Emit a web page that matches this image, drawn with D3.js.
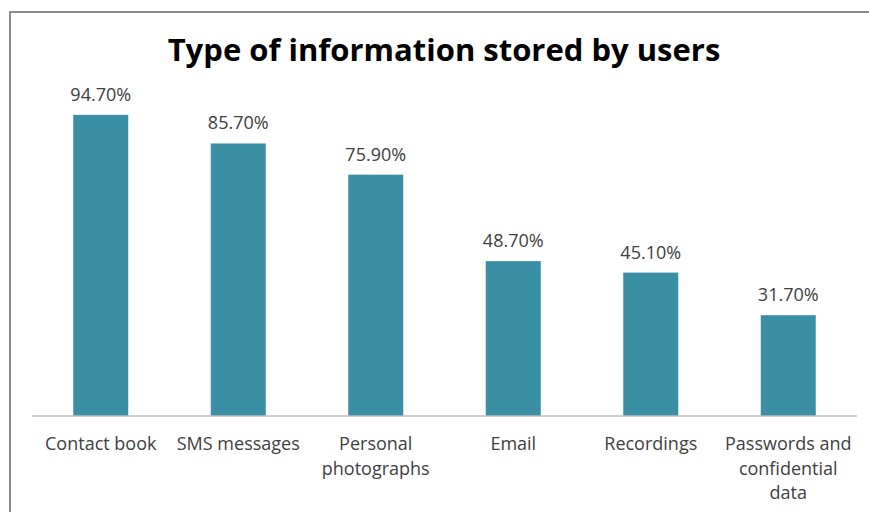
<!DOCTYPE html>
<html>
<head>
<meta charset="utf-8">
<script src="https://cdn.jsdelivr.net/npm/d3@7"></script>
<style>
  html, body { margin: 0; padding: 0; background: #ffffff; }
  svg { display: block; }
</style>
</head>
<body>
<svg id="chart" width="869" height="512"></svg>
<script>
// Survey data: share of users storing each type of information on their phone
const categories = [
  ["Contact book"],
  ["SMS messages"],
  ["Personal", "photographs"],
  ["Email"],
  ["Recordings"],
  ["Passwords and", "confidential", "data"]
];
const values = [94.7, 85.7, 75.9, 48.7, 45.1, 31.7];
const valueLabels = ["94.70%", "85.70%", "75.90%", "48.70%", "45.10%", "31.70%"];
const titleText = "Type of information stored by users";

const svg = d3.select("#chart");
const W = 869, H = 512;
const font = "'Open Sans', Lato, 'DejaVu Sans', sans-serif";

// chart frame (open on the right and bottom edges of the canvas)
svg.append("rect")
  .attr("x", 10).attr("y", 12)
  .attr("width", W + 20).attr("height", H + 20)
  .attr("fill", "#ffffff")
  .attr("stroke", "#8c8c8c")
  .attr("stroke-width", 2);

const plot = { left: 32, right: 857, top: 98, bottom: 416 };

const x = d3.scaleBand()
  .domain(d3.range(categories.length))
  .range([plot.left, plot.right])
  .paddingInner(0.6)
  .paddingOuter(0.3);

const y = d3.scaleLinear()
  .domain([0, 100])
  .range([plot.bottom, plot.top]);

// title
svg.append("text")
  .attr("x", 444).attr("y", 60.5)
  .attr("text-anchor", "middle")
  .attr("font-family", font)
  .attr("font-weight", "bold")
  .attr("font-size", 31)
  .attr("fill", "#000000")
  .text(titleText);

// bars
svg.append("g").selectAll("rect")
  .data(values)
  .join("rect")
  .attr("x", (d, i) => x(i))
  .attr("y", d => y(d))
  .attr("width", x.bandwidth())
  .attr("height", d => y(0) - y(d))
  .attr("fill", "#3b8fa4");

// value labels
svg.append("g").selectAll("text")
  .data(values)
  .join("text")
  .attr("x", (d, i) => x(i) + x.bandwidth() / 2)
  .attr("y", d => y(d) - 14)
  .attr("text-anchor", "middle")
  .attr("font-family", font)
  .attr("font-size", 18)
  .attr("fill", "#404040")
  .text((d, i) => valueLabels[i]);

// category axis
const axis = svg.append("g")
  .attr("transform", `translate(0,${plot.bottom})`)
  .call(d3.axisBottom(x).tickSize(0).tickFormat(""));
axis.select(".domain")
  .attr("stroke", "#bfbfbf")
  .attr("stroke-width", 1.5)
  .attr("d", `M${plot.left},0H${plot.right}`);

axis.selectAll(".tick").each(function(d) {
  const t = d3.select(this).append("text")
    .attr("text-anchor", "middle")
    .attr("font-family", font)
    .attr("font-size", 18)
    .attr("fill", "#404040");
  categories[d].forEach((line, k) => {
    t.append("tspan")
      .attr("x", 0)
      .attr("y", 34 + k * 24.5)
      .text(line);
  });
});
</script>
</body>
</html>
